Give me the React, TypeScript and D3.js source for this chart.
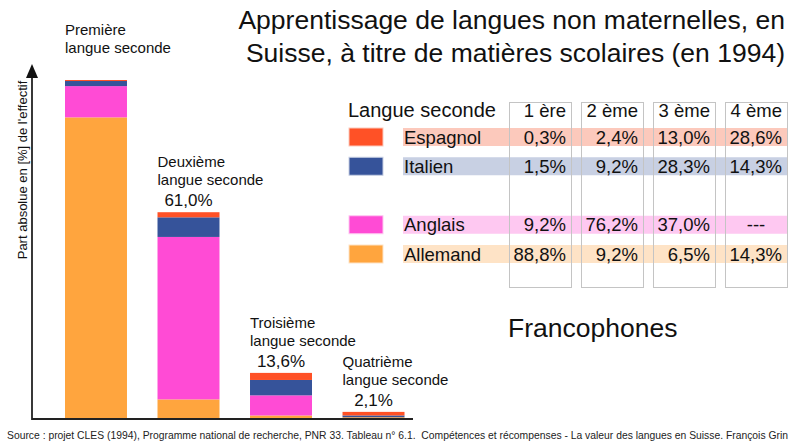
import React from "react";
import * as d3 from "d3";

const ordinals = ["Première", "Deuxième", "Troisième", "Quatrième"];
const columnHeaders = ["1 ère", "2 ème", "3 ème", "4 ème"];
const totals = [100, 61.0, 13.6, 2.1];
const totalLabels = ["", "61,0%", "13,6%", "2,1%"];
const languages = ["Espagnol", "Italien", "Anglais", "Allemand"];
const espagnol = [0.3, 2.4, 13.0, 28.6];
const italien = [1.5, 9.2, 28.3, 14.3];
const anglais = [9.2, 76.2, 37.0, null];
const allemand = [88.8, 9.2, 6.5, 14.3];
const valueLabels = [
  ["0,3%", "2,4%", "13,0%", "28,6%"],
  ["1,5%", "9,2%", "28,3%", "14,3%"],
  ["9,2%", "76,2%", "37,0%", "---"],
  ["88,8%", "9,2%", "6,5%", "14,3%"],
];

const series: Record<string, (number | null)[]> = {
  Espagnol: espagnol,
  Italien: italien,
  Anglais: anglais,
  Allemand: allemand,
};
const colors: Record<string, string> = {
  Espagnol: "#ff5126",
  Italien: "#36539a",
  Anglais: "#ff4bd5",
  Allemand: "#ffa53e",
};
const lightColors: Record<string, string> = {
  Espagnol: "#fcc9bc",
  Italien: "#c8d0e3",
  Anglais: "#fec8f1",
  Allemand: "#fee3c6",
};

const FONT = "'Liberation Sans', Arial, Helvetica, sans-serif";

export default function App() {
  const baseY = 419;
  const y = d3.scaleLinear().domain([0, 100]).range([baseY, 80]);
  const x = d3
    .scaleBand<string>()
    .domain(ordinals)
    .range([65, 404.5])
    .paddingInner(0.33)
    .paddingOuter(0);

  const stackOrder = ["Allemand", "Anglais", "Italien", "Espagnol"];

  const bars = ordinals.map((ord, i) => {
    const vals = stackOrder.map((k) => series[k][i] ?? 0);
    const sum = d3.sum(vals);
    let acc = 0;
    const segs = stackOrder.map((k, j) => {
      const share = (vals[j] / sum) * totals[i];
      const y0 = acc;
      acc += share;
      return { key: k, y0, y1: acc };
    });
    return { ord, i, segs };
  });

  // table scales
  const rowScale = d3
    .scalePoint<string>()
    .domain(["Espagnol", "Italien", "", "Anglais", "Allemand"])
    .range([128, 245]);
  const rowH = 18;
  const colScale = d3
    .scaleBand<string>()
    .domain(columnHeaders)
    .range([509, 787])
    .paddingInner(10 / 72)
    .paddingOuter(0);

  return (
    <svg
      width={800}
      height={447}
      style={{ position: "absolute", left: 0, top: 0, background: "#fff" }}
      fontFamily={FONT}
    >
      <rect x={0} y={0} width={800} height={447} fill="#fff" />
      {/* Title */}
      <text x={785} y={29} fontSize={26.5} textAnchor="end" fill="#111">
        Apprentissage de langues non maternelles, en
      </text>
      <text x={785} y={62} fontSize={26.5} textAnchor="end" fill="#111">
        Suisse, à titre de matières scolaires (en 1994)
      </text>

      {/* Bars */}
      {bars.map((b) => (
        <g key={b.ord}>
          {b.segs.map((s) => (
            <rect
              key={s.key}
              x={x(b.ord)}
              y={y(s.y1)}
              width={x.bandwidth()}
              height={Math.max(0, y(s.y0) - y(s.y1))}
              fill={colors[s.key]}
            />
          ))}
        </g>
      ))}

      {/* Bar labels */}
      {bars.map((b) => {
        const top = y(totals[b.i]);
        const x0 = x(b.ord)!;
        const cx = x0 + x.bandwidth() / 2;
        return (
          <g key={"lab" + b.ord} fill="#111">
            <text x={x0} y={top - 45} fontSize={15}>
              {b.ord}
            </text>
            <text x={x0} y={top - 27} fontSize={15}>
              langue seconde
            </text>
            {totalLabels[b.i] && (
              <text x={cx} y={top - 6} fontSize={17} textAnchor="middle">
                {totalLabels[b.i]}
              </text>
            )}
          </g>
        );
      })}

      {/* Axes */}
      <line x1={32} y1={baseY} x2={413} y2={baseY} stroke="#222" strokeWidth={1.8} />
      <line x1={32} y1={baseY + 0.9} x2={32} y2={76} stroke="#222" strokeWidth={1.8} />
      <path d="M32,64 L26,78 L38,78 Z" fill="#111" />
      <text
        transform="translate(27,170) rotate(-90)"
        fontSize={13}
        textAnchor="middle"
        fill="#111"
      >
        Part absolue en [%] de l'effectif
      </text>

      {/* Table */}
      <text x={348} y={117} fontSize={20} fill="#111">
        Langue seconde
      </text>
      {languages.map((lang, r) => {
        const ry = rowScale(lang)!;
        return (
          <g key={lang}>
            <rect x={403} y={ry} width={384} height={rowH} fill={lightColors[lang]} />
            <rect
              x={349}
              y={ry}
              width={34}
              height={rowH}
              fill={colors[lang]}
              stroke={lightColors[lang]}
              strokeWidth={1}
            />
          </g>
        );
      })}
      {columnHeaders.map((c) => (
        <rect
          key={c}
          x={colScale(c)! + 0.5}
          y={102.5}
          width={colScale.bandwidth()}
          height={185}
          fill="none"
          stroke="#c4c4c4"
          strokeWidth={1}
        />
      ))}
      {columnHeaders.map((c) => (
        <text
          key={"h" + c}
          x={colScale(c)! + colScale.bandwidth() - 5}
          y={117}
          fontSize={18.5}
          textAnchor="end"
          fill="#111"
        >
          {c}
        </text>
      ))}
      {languages.map((lang, r) => {
        const ry = rowScale(lang)!;
        return (
          <g key={"t" + lang} fill="#111" fontSize={18.5}>
            <text x={404} y={ry + 15.5}>
              {lang}
            </text>
            {columnHeaders.map((c, ci) => {
              const v = series[lang][ci];
              const label = valueLabels[r][ci];
              return v === null ? (
                <text
                  key={c}
                  x={colScale(c)! + colScale.bandwidth() / 2}
                  y={ry + 15.5}
                  textAnchor="middle"
                >
                  {label}
                </text>
              ) : (
                <text
                  key={c}
                  x={colScale(c)! + colScale.bandwidth() - 5}
                  y={ry + 15.5}
                  textAnchor="end"
                >
                  {label}
                </text>
              );
            })}
          </g>
        );
      })}

      <text x={508} y={337} fontSize={26.5} fill="#111">
        Francophones
      </text>

      <text
        x={7}
        y={439}
        fontSize={10.5}
        fill="#222"
        style={{ whiteSpace: "pre" }}
        textLength={781}
        lengthAdjust="spacingAndGlyphs"
      >
        {"Source : projet CLES (1994), Programme national de recherche, PNR 33. Tableau n° 6.1.  Compétences et récompenses - La valeur des langues en Suisse. François Grin"}
      </text>
    </svg>
  );
}
